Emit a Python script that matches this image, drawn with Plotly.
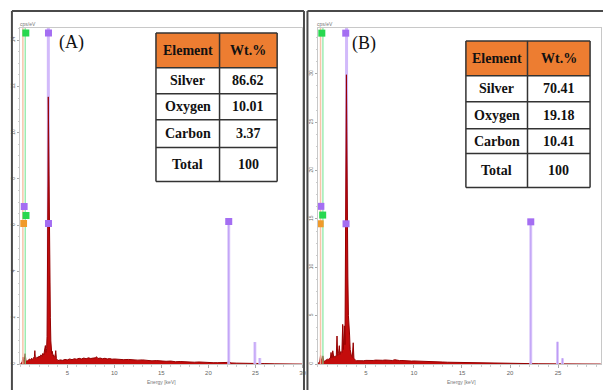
import plotly.graph_objects as go

W, H = 605, 390


def px(x):
    return x / W


def py(y):
    return (H - y) / H


# ---------------- data ----------------
left_energy = [
    0.00, 0.10, 0.20, 0.28, 0.35, 0.45, 0.52, 0.60, 0.70, 0.80,
    0.90, 1.00, 1.10, 1.20, 1.30, 1.40, 1.50, 1.55, 1.60, 1.70,
    1.80, 1.90, 2.00, 2.10, 2.20, 2.30, 2.40, 2.50, 2.60, 2.67,
    2.72, 2.80, 2.85, 2.90, 2.95, 2.98, 3.02, 3.06, 3.10, 3.15,
    3.20, 3.25, 3.30, 3.35, 3.40, 3.48, 3.55, 3.62, 3.70, 3.77,
    3.84, 3.92, 4.00, 4.25, 4.50, 4.75, 5.00, 5.25, 5.50, 5.75,
    6.00, 6.25, 6.50, 6.75, 7.00, 7.25, 7.50, 7.75, 8.00, 8.10,
    8.25, 8.50, 8.75, 9.00, 9.25, 9.50, 9.75, 10.0, 10.5, 11.0,
    11.5, 12.0, 12.5, 13.0, 13.5, 14.0, 14.5, 15.0, 15.5, 16.0,
    16.5, 17.0, 17.5, 18.0, 18.5, 19.0, 19.5, 20.0, 20.5, 21.0,
    21.5, 22.0, 22.16, 22.4, 23.0, 23.5, 24.0, 24.5, 24.94, 25.2,
    25.6, 26.0, 27.0, 28.0, 29.0, 30.0,
]
left_counts = [
    0.00, 0.03, 0.08, 0.30, 0.12, 0.20, 0.45, 0.16, 0.12, 0.15,
    0.19, 0.22, 0.17, 0.25, 0.20, 0.27, 0.32, 0.58, 0.28, 0.24,
    0.31, 0.26, 0.35, 0.30, 0.40, 0.33, 0.46, 0.40, 0.56, 0.80,
    0.50, 0.66, 1.20, 3.50, 8.00, 11.55, 9.50, 6.00, 3.80, 4.00,
    2.00, 1.00, 0.60, 0.45, 0.55, 0.35, 0.40, 0.30, 0.34, 0.58,
    0.24, 0.17, 0.15, 0.18, 0.16, 0.20, 0.18, 0.22, 0.19, 0.23,
    0.21, 0.25, 0.22, 0.26, 0.23, 0.27, 0.24, 0.26, 0.27, 0.32,
    0.24, 0.26, 0.23, 0.25, 0.22, 0.24, 0.21, 0.22, 0.20, 0.19,
    0.20, 0.17, 0.17, 0.18, 0.15, 0.14, 0.15, 0.13, 0.12, 0.13,
    0.10, 0.11, 0.09, 0.10, 0.08, 0.09, 0.07, 0.08, 0.06, 0.06,
    0.06, 0.07, 0.12, 0.05, 0.04, 0.04, 0.03, 0.03, 0.05, 0.02,
    0.02, 0.02, 0.01, 0.01, 0.01, 0.00,
]

right_energy = [
    0.00, 0.10, 0.20, 0.28, 0.35, 0.45, 0.52, 0.60, 0.70, 0.80,
    0.90, 1.00, 1.10, 1.20, 1.30, 1.37, 1.45, 1.55, 1.65, 1.75,
    1.85, 1.92, 1.99, 2.06, 2.15, 2.23, 2.30, 2.40, 2.50, 2.58,
    2.65, 2.75, 2.82, 2.88, 2.93, 2.97, 3.01, 3.06, 3.12, 3.18,
    3.24, 3.30, 3.36, 3.42, 3.50, 3.58, 3.68, 3.75, 3.84, 3.92,
    4.00, 4.25, 4.50, 4.75, 5.00, 5.25, 5.50, 5.75, 6.00, 6.25,
    6.50, 6.75, 7.00, 7.25, 7.50, 7.75, 8.00, 8.25, 8.50, 8.75,
    9.00, 9.25, 9.50, 9.75, 10.0, 10.5, 11.0, 11.5, 12.0, 12.5,
    13.0, 13.5, 14.0, 14.5, 15.0, 15.5, 16.0, 16.5, 17.0, 17.5,
    18.0, 18.5, 19.0, 19.5, 20.0, 20.5, 21.0, 21.5, 22.0, 22.16,
    22.4, 23.0, 24.0, 25.0, 26.0, 27.0, 28.0, 29.0, 29.45,
]
right_counts = [
    0.00, 0.10, 0.30, 0.90, 0.40, 0.50, 0.85, 0.35, 0.30, 0.38,
    0.42, 0.50, 0.45, 0.60, 0.55, 1.20, 0.65, 1.37, 0.70, 0.80,
    0.75, 0.95, 2.90, 0.90, 1.10, 1.90, 1.00, 1.30, 1.20, 4.10,
    1.50, 3.95, 2.00, 9.50, 22.0, 29.9, 24.0, 12.0, 9.00, 5.00,
    4.30, 3.00, 1.50, 1.00, 0.80, 0.70, 2.20, 0.60, 0.45, 0.38,
    0.35, 0.33, 0.36, 0.34, 0.38, 0.36, 0.40, 0.37, 0.41, 0.38,
    0.40, 0.39, 0.42, 0.38, 0.41, 0.37, 0.45, 0.38, 0.36, 0.37,
    0.34, 0.35, 0.33, 0.31, 0.32, 0.29, 0.27, 0.25, 0.24, 0.22,
    0.21, 0.19, 0.18, 0.16, 0.15, 0.13, 0.12, 0.11, 0.10, 0.09,
    0.08, 0.08, 0.07, 0.06, 0.05, 0.05, 0.04, 0.04, 0.05, 0.12,
    0.04, 0.03, 0.03, 0.02, 0.01, 0.01, 0.01, 0.00, 0.00,
]

x_tick_vals = [5, 10, 15, 20, 25, 30]
left_y_ticks = [0, 2, 4, 6, 8, 10, 12, 14]
right_y_ticks = [0, 5, 10, 15, 20, 25, 30]

# element marker lines (keV)
line_C = 0.277
line_O = 0.525
line_AgL = 2.984
agk_lines = [22.16, 24.94, 25.46]
left_agk_heights = [6.16, 0.95, 0.26]
right_agk_heights = [14.7, 2.3, 0.6]

# marker label boxes: (energy, height in cps/eV, kind)
left_boxes = [(0.59, 14.31, "O"), (3.0, 14.31, "Ag"), (0.41, 6.81, "Ag"),
              (0.61, 6.42, "O"), (0.35, 6.08, "C"), (3.0, 6.08, "Ag"),
              (22.16, 6.16, "Ag")]
right_boxes = [(0.41, 34.2, "O"), (2.9, 34.2, "Ag"), (0.31, 16.3, "Ag"),
               (0.50, 15.4, "O"), (0.24, 14.5, "C"), (2.93, 14.5, "Ag"),
               (22.16, 14.7, "Ag")]

table_header = ["Element", "Wt.%"]
elements = ["Silver", "Oxygen", "Carbon", "Total"]
wt_a = ["86.62", "10.01", "3.37", "100"]
wt_b = ["70.41", "19.18", "10.41", "100"]

# ---------------- figure ----------------
RED_FILL = "rgb(196,12,12)"
RED_LINE = "rgb(150,0,0)"
box_colors = {"O": "#27d84f", "Ag": "#a46ef2", "C": "#f09a2a"}

fig = go.Figure()
fig.add_trace(go.Scatter(x=left_energy, y=left_counts, mode="lines",
                         fill="tozeroy", fillcolor=RED_FILL,
                         line=dict(color=RED_LINE, width=1),
                         xaxis="x", yaxis="y", hoverinfo="skip"))
fig.add_trace(go.Scatter(x=right_energy, y=right_counts, mode="lines",
                         fill="tozeroy", fillcolor=RED_FILL,
                         line=dict(color=RED_LINE, width=1),
                         xaxis="x2", yaxis="y2", hoverinfo="skip"))

shapes = []
annotations = []


def marker_lines(xr, yr, agk_h):
    dom = yr + " domain"
    # Ag L (below the spectrum)
    shapes.append(dict(type="line", xref=xr, yref=dom, x0=line_AgL, x1=line_AgL,
                       y0=0, y1=1, layer="below",
                       line=dict(color="rgba(205,178,250,0.9)", width=3)))
    shapes.append(dict(type="line", xref=xr, yref=dom, x0=line_C, x1=line_C,
                       y0=0, y1=1, line=dict(color="rgba(245,190,160,0.9)", width=1.5)))
    shapes.append(dict(type="line", xref=xr, yref=dom, x0=line_O, x1=line_O,
                       y0=0, y1=1, line=dict(color="rgba(120,230,150,0.9)", width=1.2)))
    for e, h in zip(agk_lines, agk_h):
        shapes.append(dict(type="line", xref=xr, yref=yr, x0=e, x1=e, y0=0, y1=h,
                           line=dict(color="rgba(215,195,250,0.9)", width=3)))
        shapes.append(dict(type="line", xref=xr, yref=yr, x0=e, x1=e, y0=0, y1=h,
                           line=dict(color="rgba(185,150,245,0.9)", width=1)))


def marker_boxes(xr, yr, boxes):
    for e, h, k in boxes:
        shapes.append(dict(type="rect", xref=xr, yref=yr, xsizemode="pixel",
                           ysizemode="pixel", xanchor=e, yanchor=h,
                           x0=-3.5, x1=3.5, y0=-3.5, y1=3.5,
                           fillcolor=box_colors[k], line=dict(width=0)))


marker_lines("x", "y", left_agk_heights)
marker_lines("x2", "y2", right_agk_heights)
marker_boxes("x", "y", left_boxes)
marker_boxes("x2", "y2", right_boxes)

# outer frames
FRAME = "#4a4a4a"
for (x0, y0, x1, y1) in [(12, 11, 12, 392), (12, 11, 306, 11), (306, 11, 306, 392),
                         (309.5, 11, 309.5, 392), (309.5, 11, 607, 11)]:
    shapes.append(dict(type="line", xref="paper", yref="paper",
                       x0=px(x0), x1=px(x1), y0=py(y0), y1=py(y1),
                       line=dict(color=FRAME, width=2)))


def table(x0, xm, x1, rows_y, values):
    # header
    shapes.append(dict(type="rect", xref="paper", yref="paper",
                       x0=px(x0), x1=px(x1), y0=py(rows_y[1]), y1=py(rows_y[0]),
                       fillcolor="#ED7D31", line=dict(width=0)))
    for y in rows_y:
        shapes.append(dict(type="line", xref="paper", yref="paper",
                           x0=px(x0), x1=px(x1), y0=py(y), y1=py(y),
                           line=dict(color="#333333", width=1.5)))
    for x in (x0, xm, x1):
        shapes.append(dict(type="line", xref="paper", yref="paper",
                           x0=px(x), x1=px(x), y0=py(rows_y[0]), y1=py(rows_y[-1]),
                           line=dict(color="#333333", width=1.5)))
    cells = [table_header] + [[e, v] for e, v in zip(elements, values)]
    for i, row in enumerate(cells):
        yc = (rows_y[i] + rows_y[i + 1]) / 2
        for j, txt in enumerate(row):
            xc = (x0 + xm) / 2 if j == 0 else (xm + x1) / 2
            annotations.append(dict(text="<b>%s</b>" % txt, xref="paper", yref="paper",
                                    x=px(xc), y=py(yc), showarrow=False,
                                    xanchor="center", yanchor="middle",
                                    font=dict(family="Liberation Serif", size=14,
                                              color="#111111")))


table(157, 221, 279, [33, 68, 94, 120, 148, 182], wt_a)
table(469, 531, 594, [41, 76, 102, 129, 154, 188], wt_b)

# panel labels
for txt, x, y in [("(A)", 72, 43), ("(B)", 366, 44)]:
    annotations.append(dict(text=txt, xref="paper", yref="paper", x=px(x), y=py(y),
                            showarrow=False, xanchor="center", yanchor="middle",
                            font=dict(family="Liberation Serif", size=18, color="#111")))

# small axis captions
for x in (28, 327):
    annotations.append(dict(text="cps/eV", xref="paper", yref="paper", x=px(x), y=py(24),
                            showarrow=False, xanchor="center", yanchor="middle",
                            font=dict(family="Liberation Sans", size=5, color="#777")))
for xr in ("x", "x2"):
    annotations.append(dict(text="Energy [keV]", xref=xr, yref="paper", x=15, y=py(383),
                            showarrow=False, xanchor="center", yanchor="middle",
                            font=dict(family="Liberation Sans", size=5, color="#777")))

AX = "#c8c8c8"
common_x = dict(showgrid=False, zeroline=False, showline=True, linecolor=AX,
                linewidth=1, mirror=True, ticks="outside", ticklen=3, tickcolor="#aaa",
                tickvals=x_tick_vals, ticktext=[str(v) for v in x_tick_vals],
                tickfont=dict(family="Liberation Sans", size=6, color="#666"),
                minor=dict(ticks="outside", ticklen=2, dtick=1, tickcolor="#ccc"))
common_y = dict(showgrid=False, zeroline=False, showline=True, linecolor=AX,
                linewidth=1, mirror=True, ticks="outside", ticklen=2, tickcolor="#aaa",
                tickangle=-90,
                tickfont=dict(family="Liberation Sans", size=5, color="#666"),
                domain=[py(365), py(28)])

fig.update_layout(
    width=W, height=H, margin=dict(l=0, r=0, t=0, b=0),
    paper_bgcolor="white", plot_bgcolor="white", showlegend=False,
    xaxis=dict(common_x, domain=[px(20.4), px(304.5)], range=[0, 30], anchor="y"),
    yaxis=dict(common_y, range=[0, 14.53], anchor="x", tickvals=left_y_ticks,
               minor=dict(ticks="outside", ticklen=1, dtick=0.5, tickcolor="#ccc")),
    xaxis2=dict(common_x, domain=[px(320), 1.0], range=[0, 29.47], anchor="y2"),
    yaxis2=dict(common_y, range=[0, 34.74], anchor="x2", tickvals=right_y_ticks,
                minor=dict(ticks="outside", ticklen=1, dtick=1.25, tickcolor="#ccc")),
    shapes=shapes, annotations=annotations,
)

fig.write_html("out.html")
